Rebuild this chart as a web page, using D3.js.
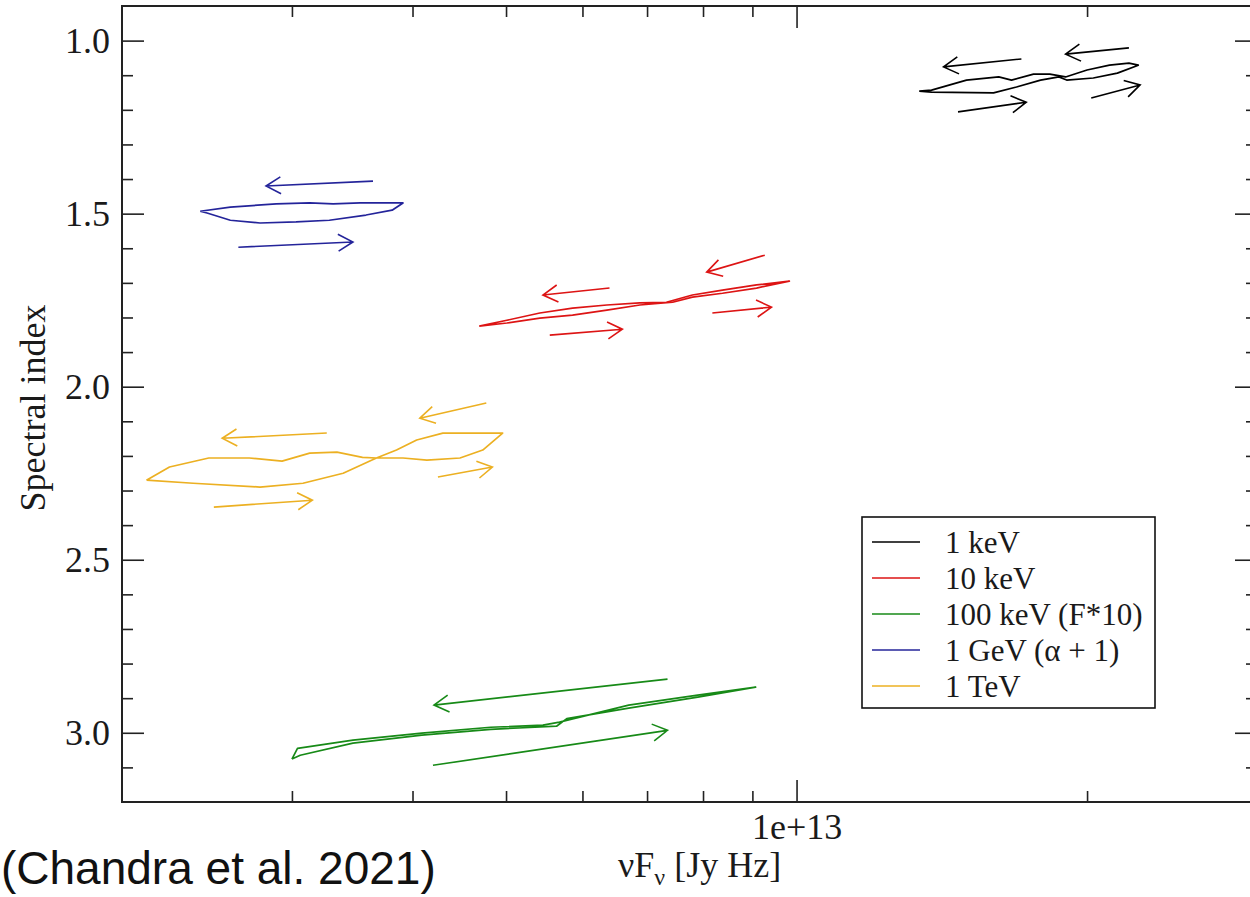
<!DOCTYPE html>
<html>
<head>
<meta charset="utf-8">
<script src="https://d3js.org/d3.v7.min.js"></script>
<style>
body { margin: 0; background: #fff; }
svg { display: block; }
.axis text { font-family: "Liberation Serif", "Times New Roman", serif; font-size: 36px; fill: #1a1a1a; }
.axis line { stroke: #222; stroke-width: 1.6; }
.axis path { display: none; }
.label { font-family: "Liberation Serif", "Times New Roman", serif; font-size: 36px; fill: #1a1a1a; }
.legend text { font-family: "Liberation Serif", "Times New Roman", serif; font-size: 31px; fill: #1a1a1a; }
</style>
</head>
<body>
<div id="chart"></div>
<script>

// DATA  (x = nuF_nu in Jy Hz, y = spectral index)

const seriesNames = ["1 keV", "10 keV", "100 keV (F*10)", "1 GeV (\u03b1 + 1)", "1 TeV"];
const seriesColors = ["#000000", "#dd1414", "#178a17", "#24249a", "#ecb022"];

const loop1keV = [
    [1.34e13,1.146],[1.38e13,1.143],[1.50e13,1.114],[1.62e13,1.105],[1.67e13,1.114],[1.76e13,1.097],
    [1.83e13,1.097],[1.90e13,1.105],[2.00e13,1.085],[2.11e13,1.071],[2.21e13,1.065],[2.26e13,1.071],
    [2.15e13,1.094],[2.03e13,1.108],[1.905e13,1.114],[1.87e13,1.105],[1.79e13,1.114],[1.69e13,1.134],
    [1.60e13,1.151],[1.38e13,1.149],[1.34e13,1.146]
];
const arrows1keV = [
    [[1.71e13,1.053],[1.42e13,1.076]],
    [[2.21e13,1.021],[1.90e13,1.039]],
    [[1.47e13,1.206],[1.73e13,1.178]],
    [[2.02e13,1.166],[2.27e13,1.128]]
];

const loop10keV = [
    [4.69e12,1.825],[5.01e12,1.808],[5.42e12,1.787],[5.86e12,1.773],[6.36e12,1.764],[6.88e12,1.758],
    [7.33e12,1.756],[7.80e12,1.735],[8.38e12,1.721],[9.09e12,1.706],[9.83e12,1.695],
    [9.09e12,1.715],[8.38e12,1.730],[7.80e12,1.741],[7.44e12,1.756],[6.88e12,1.764],[6.36e12,1.779],
    [5.86e12,1.793],[5.42e12,1.802],[5.01e12,1.816],[4.69e12,1.825]
];
const arrows10keV = [
    [[6.40e12,1.715],[5.46e12,1.735]],
    [[9.27e12,1.620],[8.07e12,1.669]],
    [[5.55e12,1.851],[6.60e12,1.834]],
    [[8.18e12,1.787],[9.42e12,1.770]]
];

const loop100keV = [
    [3.00e12,3.076],[3.04e12,3.045],[3.47e12,3.021],[4.09e12,3.001],[4.82e12,2.984],[5.46e12,2.978],
    [5.68e12,2.969],[6.70e12,2.920],[7.90e12,2.891],[9.07e12,2.868],
    [7.90e12,2.897],[6.70e12,2.929],[5.78e12,2.959],[5.64e12,2.981],[4.82e12,2.990],[4.09e12,3.007],
    [3.47e12,3.030],[3.06e12,3.065],[3.00e12,3.076]
];
const arrows100keV = [
    [[7.35e12,2.845],[4.21e12,2.920]],
    [[4.20e12,3.094],[7.35e12,2.993]]
];

const loop1GeV = [
    [2.41e12,1.493],[2.59e12,1.481],[2.89e12,1.472],[3.13e12,1.469],[3.31e12,1.472],[3.53e12,1.469],
    [3.91e12,1.469],[3.81e12,1.490],[3.58e12,1.504],[3.28e12,1.519],[3.03e12,1.524],[2.78e12,1.527],
    [2.59e12,1.519],[2.45e12,1.498],[2.41e12,1.493]
];
const arrows1GeV = [
    [[3.64e12,1.406],[2.82e12,1.420]],
    [[2.64e12,1.597],[3.47e12,1.582]]
];

const loop1TeV = [
    [2.12e12,2.270],[2.24e12,2.232],[2.46e12,2.206],[2.71e12,2.206],[2.93e12,2.215],[3.13e12,2.192],
    [3.34e12,2.189],[3.55e12,2.204],[3.67e12,2.206],[3.85e12,2.183],[4.04e12,2.154],[4.30e12,2.134],
    [4.96e12,2.134],[4.73e12,2.183],[4.48e12,2.206],[4.14e12,2.212],[3.91e12,2.206],[3.67e12,2.206],
    [3.39e12,2.250],[3.08e12,2.279],[2.78e12,2.290],[2.37e12,2.279],[2.12e12,2.270]
];
const arrows1TeV = [
    [[3.26e12,2.134],[2.54e12,2.149]],
    [[4.77e12,2.047],[4.07e12,2.091]],
    [[2.49e12,2.348],[3.15e12,2.328]],
    [[4.25e12,2.261],[4.84e12,2.232]]
];

// TICKS

const xMajorTicks = [1e13];
const xTickLabels = ["1e+13"];
const xMinorTicks = [3e12, 4e12, 5e12, 6e12, 7e12, 8e12, 9e12, 2e13];
const yMajorTicks = [1.0, 1.5, 2.0, 2.5, 3.0];
const yMinorTicks = [1.1, 1.2, 1.3, 1.4, 1.6, 1.7, 1.8, 1.9, 2.1, 2.2, 2.3, 2.4, 2.6, 2.7, 2.8, 2.9, 3.1];

// MAKE SVG CANVAS

const width = 1250;
const height = 897;
const plot = {left: 122, right: 1257, top: 6, bottom: 802};

const svg = d3.select("#chart")
    .append("svg")
    .attr("width", width)
    .attr("height", height);

// SCALES

const xScale = d3.scaleLog()
    .domain([2e12, 3e13])
    .range([plot.left, plot.right]);

const yScale = d3.scaleLinear()
    .domain([0.9, 3.2])
    .range([plot.top, plot.bottom]);

// AXES (ticks point inward on all four sides)

svg.append("g")
    .attr("class", "axis")
    .attr("transform", `translate(0,${plot.bottom})`)
    .call(d3.axisBottom(xScale).tickValues(xMajorTicks).tickSize(-22).tickPadding(11)
        .tickFormat(function(d, i) { return xTickLabels[i]; }));

svg.append("g")
    .attr("class", "axis")
    .attr("transform", `translate(0,${plot.bottom})`)
    .call(d3.axisBottom(xScale).tickValues(xMinorTicks).tickSize(-11).tickFormat(""));

svg.append("g")
    .attr("class", "axis")
    .attr("transform", `translate(0,${plot.top})`)
    .call(d3.axisTop(xScale).tickValues(xMajorTicks).tickSize(-22).tickFormat(""));

svg.append("g")
    .attr("class", "axis")
    .attr("transform", `translate(0,${plot.top})`)
    .call(d3.axisTop(xScale).tickValues(xMinorTicks).tickSize(-11).tickFormat(""));

svg.append("g")
    .attr("class", "axis")
    .attr("transform", `translate(${plot.left},0)`)
    .call(d3.axisLeft(yScale).tickValues(yMajorTicks).tickSize(-22).tickPadding(12)
        .tickFormat(d3.format(".1f")));

svg.append("g")
    .attr("class", "axis")
    .attr("transform", `translate(${plot.left},0)`)
    .call(d3.axisLeft(yScale).tickValues(yMinorTicks).tickSize(-11).tickFormat(""));

svg.append("g")
    .attr("class", "axis")
    .attr("transform", `translate(${plot.right},0)`)
    .call(d3.axisRight(yScale).tickValues(yMajorTicks).tickSize(-22).tickFormat(""));

svg.append("g")
    .attr("class", "axis")
    .attr("transform", `translate(${plot.right},0)`)
    .call(d3.axisRight(yScale).tickValues(yMinorTicks).tickSize(-11).tickFormat(""));

// FRAME

svg.append("rect")
    .attr("x", plot.left)
    .attr("y", plot.top)
    .attr("width", plot.right - plot.left)
    .attr("height", plot.bottom - plot.top)
    .attr("fill", "none")
    .attr("stroke", "#222")
    .attr("stroke-width", 2);

// AXIS LABELS

svg.append("text")
    .attr("class", "label")
    .attr("transform", "rotate(-90)")
    .attr("x", -408)
    .attr("y", 45)
    .attr("text-anchor", "middle")
    .text("Spectral index");

const xLabel = svg.append("text")
    .attr("class", "label")
    .attr("x", 618)
    .attr("y", 877);
xLabel.append("tspan").text("\u03bdF");
xLabel.append("tspan").attr("font-size", "24px").attr("dy", 8).text("\u03bd");
xLabel.append("tspan").attr("dy", -8).text(" [Jy Hz]");

svg.append("text")
    .attr("x", 1)
    .attr("y", 884)
    .attr("font-family", "'Liberation Sans', Arial, sans-serif")
    .attr("font-size", "46px")
    .attr("fill", "#111")
    .text("(Chandra et al. 2021)");

// DATA

const series = [
    {name: seriesNames[0], color: seriesColors[0], loop: loop1keV, arrows: arrows1keV},
    {name: seriesNames[1], color: seriesColors[1], loop: loop10keV, arrows: arrows10keV},
    {name: seriesNames[2], color: seriesColors[2], loop: loop100keV, arrows: arrows100keV},
    {name: seriesNames[3], color: seriesColors[3], loop: loop1GeV, arrows: arrows1GeV},
    {name: seriesNames[4], color: seriesColors[4], loop: loop1TeV, arrows: arrows1TeV}
];

const line = d3.line()
    .x(function(d) { return xScale(d[0]); })
    .y(function(d) { return yScale(d[1]); });

// open arrow head at the end of each segment
function arrowPath(a) {
    const x0 = xScale(a[0][0]), y0 = yScale(a[0][1]);
    const x1 = xScale(a[1][0]), y1 = yScale(a[1][1]);
    const ang = Math.atan2(y1 - y0, x1 - x0);
    const len = 17, spread = Math.PI / 6;
    const bx1 = x1 - len * Math.cos(ang - spread), by1 = y1 - len * Math.sin(ang - spread);
    const bx2 = x1 - len * Math.cos(ang + spread), by2 = y1 - len * Math.sin(ang + spread);
    return `M${x0},${y0}L${x1},${y1}M${bx1},${by1}L${x1},${y1}L${bx2},${by2}`;
}

series.forEach(function(s) {
    const g = svg.append("g");

    g.append("path")
        .attr("d", line(s.loop))
        .attr("fill", "none")
        .attr("stroke", s.color)
        .attr("stroke-width", 1.7)
        .attr("stroke-linejoin", "round");

    g.selectAll(".arrow")
        .data(s.arrows)
        .enter()
        .append("path")
            .attr("class", "arrow")
            .attr("d", arrowPath)
            .attr("fill", "none")
            .attr("stroke", s.color)
            .attr("stroke-width", 1.6);
});

// LEGEND

const legend = svg.append("g").attr("class", "legend");

legend.append("rect")
    .attr("x", 862)
    .attr("y", 517)
    .attr("width", 293)
    .attr("height", 191)
    .attr("fill", "#fff")
    .attr("stroke", "#111")
    .attr("stroke-width", 1.6);

const item = legend.selectAll(".item")
    .data(series)
    .enter()
    .append("g")
        .attr("class", "item")
        .attr("transform", function(d, i) { return `translate(0,${542 + i * 36})`; });

item.append("line")
    .attr("x1", 872)
    .attr("x2", 920)
    .attr("y1", 0)
    .attr("y2", 0)
    .attr("stroke", function(d) { return d.color; })
    .attr("stroke-width", 1.6);

item.append("text")
    .attr("x", 945)
    .attr("y", 11)
    .text(function(d) { return d.name; });

</script>
</body>
</html>
